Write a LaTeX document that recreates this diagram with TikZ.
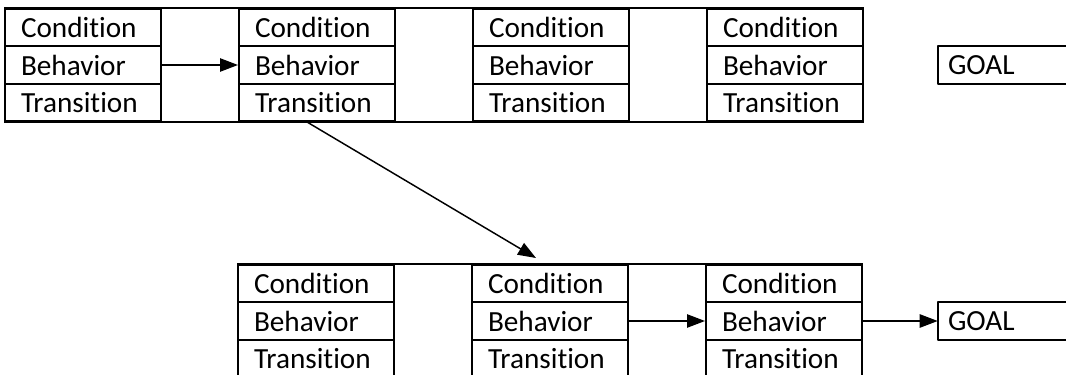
\documentclass[tikz,border=0pt]{standalone}
\usepackage{fontspec}
\setmainfont[Ligatures=NoCommon]{Carlito}
\usetikzlibrary{arrows.meta}
\tikzset{
  cell/.style={draw,line width=1.5bp,minimum width=117bp,minimum height=28bp,inner xsep=12bp,
    text width=93bp,align=left,font=\fontsize{22}{26}\selectfont},
  goalcell/.style={draw=none,minimum width=99bp,minimum height=28bp,inner xsep=7.5bp,
    text width=84bp,align=left,font=\fontsize{22}{26}\selectfont},
}
\begin{document}
\begin{tikzpicture}[>={Triangle[length=13.5bp,width=10bp]},line join=bevel,]
\useasboundingbox (0bp,0bp) rectangle (799.5bp,281.25bp);
%%
\node (cond_1) at (62.25bp,260.5bp) [cell] {Condition};
  \node (beh_1) at (62.25bp,232.5bp) [cell] {Behavior};
  \node (trans_1) at (62.25bp,204.5bp) [cell] {Transition};
  \node (cond_2) at (237.75bp,260.5bp) [cell] {Condition};
  \node (beh_2) at (237.75bp,232.5bp) [cell] {Behavior};
  \node (trans_2) at (237.75bp,204.5bp) [cell] {Transition};
  \node (cond_3) at (413.25bp,260.5bp) [cell] {Condition};
  \node (beh_3) at (413.25bp,232.5bp) [cell] {Behavior};
  \node (trans_3) at (413.25bp,204.5bp) [cell] {Transition};
  \node (cond_4) at (588.75bp,260.5bp) [cell] {Condition};
  \node (beh_4) at (588.75bp,232.5bp) [cell] {Behavior};
  \node (trans_4) at (588.75bp,204.5bp) [cell] {Transition};
  \node (goal_1) at (753bp,232.5bp) [goalcell] {GOAL};
%
\node (cond_5) at (237bp,68.5bp) [cell] {Condition};
  \node (beh_5) at (237bp,40.5bp) [cell] {Behavior};
  \node (trans_5) at (237bp,12.5bp) [cell] {Transition};
  \node (cond_6) at (412.5bp,68.5bp) [cell] {Condition};
  \node (beh_6) at (412.5bp,40.5bp) [cell] {Behavior};
  \node (trans_6) at (412.5bp,12.5bp) [cell] {Transition};
  \node (cond_7) at (588bp,68.5bp) [cell] {Condition};
  \node (beh_7) at (588bp,40.5bp) [cell] {Behavior};
  \node (trans_7) at (588bp,12.5bp) [cell] {Transition};
  \node (goal_2) at (753bp,40.5bp) [goalcell] {GOAL};
%% borders over the gaps and round the goals
\draw [line width=1.5bp] (cond_1.north west) -- (cond_4.north east);
  \draw [line width=1.5bp] (trans_1.south west) -- (trans_4.south east);
  \draw [line width=1.5bp] (cond_5.north west) -- (cond_7.north east);
  \draw [line width=1.5bp] (trans_5.south west) -- (trans_7.south east);
  \draw [line width=1.5bp] (goal_1.north east) -- (goal_1.north west) -- (goal_1.south west) -- (goal_1.south east);
  \draw [line width=1.5bp] (goal_2.north east) -- (goal_2.north west) -- (goal_2.south west) -- (goal_2.south east);
%% arrows
\draw [black,->,line width=1.1bp] (beh_1.east) -- (beh_2.west);
  \draw [black,->,line width=1.1bp] ([xshift=-7.5bp]trans_2.south) -- ([xshift=-10.5bp,yshift=4.5bp]cond_6.north);
  \draw [black,->,line width=1.1bp] (beh_6.east) -- (beh_7.west);
  \draw [black,->,line width=1.1bp] (beh_7.east) -- (goal_2.west);
%
\end{tikzpicture}
\end{document}
